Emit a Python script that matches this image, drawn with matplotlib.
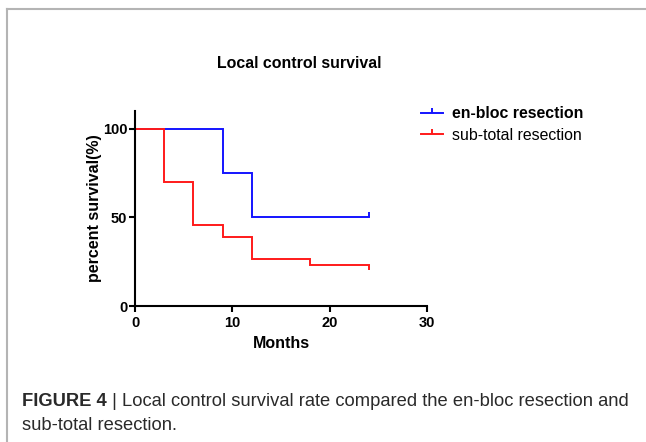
import matplotlib
matplotlib.use("Agg")
import matplotlib.pyplot as plt
from matplotlib.lines import Line2D

# ---- data ----
enbloc_time = [0, 9, 12, 24]
enbloc_surv = [100, 75, 50, 50]
subtotal_time = [0, 3, 6, 9, 12, 18, 24]
subtotal_surv = [100, 70, 45.5, 38.8, 26.4, 23.0, 23.0]
censor_time = [24]
enbloc_censor = [50]
subtotal_censor = [23.0]
x_ticks = [0, 10, 20, 30]
y_ticks = [0, 50, 100]
series_labels = ["en-bloc resection", "sub-total resection"]
title = "Local control survival"
xlabel = "Months"
ylabel = "percent survival(%)"
cap_bold = "FIGURE 4"
cap_line1 = " | Local control survival rate compared the en-bloc resection and"
cap_line2 = "sub-total resection."

plt.rcParams['font.family'] = ['Liberation Sans', 'DejaVu Sans']

W, H = 646, 442
fig = plt.figure(figsize=(W / 100, H / 100), dpi=100)

def fx(px):
    return px / W

def fy(py):
    return 1 - py / H

ax = fig.add_axes([fx(135), fy(306), fx(427) - fx(135), fy(111) - fy(306)])
blue = '#1414ff'
red = '#ff1a1a'
ax.step(enbloc_time, enbloc_surv, where='post', color=blue, lw=1.4, solid_joinstyle='miter')
ax.step(subtotal_time, subtotal_surv, where='post', color=red, lw=1.4, solid_joinstyle='miter')
ax.plot(censor_time, enbloc_censor, ls='none', marker=2, ms=3.5, mew=1.4, color=blue)
ax.plot(censor_time, subtotal_censor, ls='none', marker=3, ms=3.5, mew=1.4, color=red)

ax.set_xlim(0, 30)
ax.set_ylim(0, 110)
ax.set_xticks(x_ticks)
ax.set_yticks(y_ticks)
for s in ['top', 'right']:
    ax.spines[s].set_visible(False)
for s in ['left', 'bottom']:
    ax.spines[s].set_linewidth(1.5)
    ax.spines[s].set_color('black')
ax.spines['left'].set_bounds(0, 110)
ax.tick_params(axis='both', direction='out', length=4, width=1.5, labelsize=10.5)
ax.tick_params(axis='x', pad=3.5)
ax.tick_params(axis='y', pad=1.5)
for lab in ax.get_xticklabels() + ax.get_yticklabels():
    lab.set_fontweight('bold')
ax.set_xlabel(xlabel, fontsize=11.5, fontweight='bold', labelpad=4)
ax.set_ylabel(ylabel, fontsize=11.5, fontweight='bold', labelpad=0.5)
ax.patch.set_alpha(0)

fig.text(fx(299), fy(63), title, ha='center', va='center', fontsize=11.4, fontweight='bold')

handles = [Line2D([0], [0], color=blue, lw=1.4, marker=2, ms=3.5, mew=1.4),
           Line2D([0], [0], color=red, lw=1.4, marker=2, ms=3.5, mew=1.4)]
leg = fig.legend(handles, series_labels, loc='upper left', bbox_to_anchor=(fx(407), fy(92)),
                 frameon=False, fontsize=11.4, handlelength=1.4, handletextpad=0.55,
                 labelspacing=0.4, numpoints=1)
leg.get_texts()[0].set_fontweight('bold')

# frame lines
gray = '#b4b4b4'
fig.add_artist(Line2D([fx(7), 1], [fy(8.5), fy(8.5)], color=gray, lw=1.5))
fig.add_artist(Line2D([fx(7), fx(7)], [0, fy(8.5)], color=gray, lw=1.5))

# caption
capc = '#2a2a2a'
fs_cap = 13.2
t1 = fig.text(fx(22), fy(401), cap_bold, ha='left', va='center', fontsize=fs_cap,
              fontweight='bold', color=capc)
fig.canvas.draw()
r = fig.canvas.get_renderer()
bb = t1.get_window_extent(renderer=r)
fig.text(bb.x1 / W, fy(401), cap_line1, ha='left', va='center', fontsize=fs_cap, color=capc)
fig.text(fx(22), fy(426), cap_line2, ha='left', va='center', fontsize=fs_cap, color=capc)

fig.savefig('out.png', dpi=100)
